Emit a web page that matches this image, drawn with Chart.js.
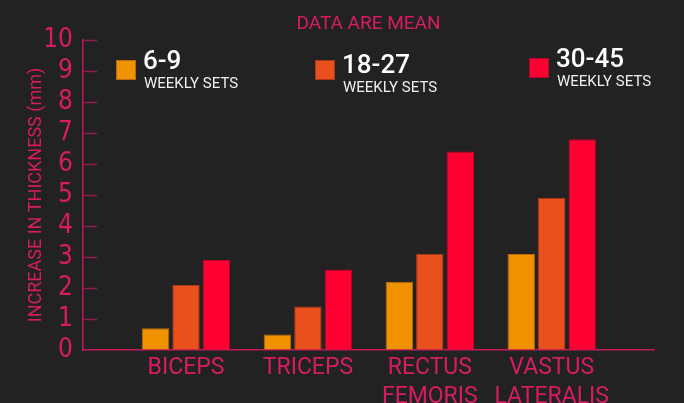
<!DOCTYPE html>
<html>
<head>
<meta charset="utf-8">
<script src="https://cdn.jsdelivr.net/npm/chart.js@4.4.1/dist/chart.umd.min.js"></script>
<style>
  html, body { margin: 0; padding: 0; background: #222222; }
  #chart { display: block; }
</style>
</head>
<body>
<canvas id="chart" width="684" height="403"></canvas>
<script>
// data
const muscles = [['BICEPS'], ['TRICEPS'], ['RECTUS', 'FEMORIS'], ['VASTUS', 'LATERALIS']];
const setGroups = ['6-9', '18-27', '30-45'];
const sets6to9 = [0.7, 0.5, 2.2, 3.1];
const sets18to27 = [2.1, 1.4, 3.1, 4.9];
const sets30to45 = [2.9, 2.6, 6.4, 6.8];
const yMin = 0, yMax = 10, yStep = 1;

const PINK = '#d81c62';
const AXIS = '#c2185b';
const NARROW = "'Liberation Sans Narrow', 'DejaVu Sans Condensed', Roboto, sans-serif";
const fills = ['#f09100', '#e8501e', '#ff0033'];
const edges = ['#b86c08', '#a8391a', '#b8002a'];

// small tick marks pointing into the plot, like the original
const innerTicks = {
    id: 'innerTicks',
    afterDatasetsDraw(chart) {
        const { ctx, scales: { y }, chartArea } = chart;
        ctx.save();
        ctx.strokeStyle = '#8e1d4a';
        ctx.lineWidth = 1.5;
        y.ticks.forEach(t => {
            if (t.value === 0) return;
            const py = Math.round(y.getPixelForValue(t.value)) + 0.5;
            ctx.beginPath();
            ctx.moveTo(chartArea.left, py);
            ctx.lineTo(chartArea.left + 14, py);
            ctx.stroke();
        });
        ctx.restore();
    }
};

// legend boxes placed where the original has them
const legendSpots = [
    { sx: 116, sy: 60, tx: 143, t1: 69, t2: 88 },
    { sx: 315, sy: 60, tx: 342, t1: 73, t2: 92 },
    { sx: 529, sy: 58, tx: 556, t1: 67, t2: 86 }
];
const setLegend = {
    id: 'setLegend',
    afterDraw(chart) {
        const ctx = chart.ctx;
        ctx.save();
        chart.data.datasets.forEach((ds, i) => {
            const p = legendSpots[i];
            ctx.fillStyle = ds.backgroundColor;
            ctx.fillRect(p.sx, p.sy, 20, 20);
            ctx.strokeStyle = ds.borderColor;
            ctx.lineWidth = 1;
            ctx.strokeRect(p.sx + 0.5, p.sy + 0.5, 19, 19);
            ctx.fillStyle = '#ffffff';
            ctx.textBaseline = 'alphabetic';
            ctx.textAlign = 'left';
            ctx.font = '500 26px Roboto';
            ctx.fillText(ds.label, p.tx, p.t1);
            ctx.fillStyle = '#eeeeee';
            ctx.font = '15px Roboto';
            ctx.fillText('WEEKLY SETS', p.tx + 1, p.t2);
        });
        ctx.restore();
    }
};

const series = [sets6to9, sets18to27, sets30to45];

new Chart(document.getElementById('chart').getContext('2d'), {
    type: 'bar',
    data: {
        datasets: setGroups.map((g, k) => ({
            label: g,
            data: series[k].map((v, i) => ({ x: i, y: v })),
            backgroundColor: fills[k],
            borderColor: edges[k],
            borderWidth: 1,
            categoryPercentage: 0.75,
            barPercentage: 0.9
        }))
    },
    options: {
        responsive: false,
        animation: false,
        layout: { padding: { top: 0, right: 30, bottom: 0, left: 0 } },
        plugins: {
            legend: { display: false },
            tooltip: { enabled: false },
            title: {
                display: true,
                text: 'DATA ARE MEAN',
                color: PINK,
                fullSize: false,
                font: { family: 'Roboto', size: 19, weight: 'normal', lineHeight: 1 },
                padding: { top: 15, bottom: 6 }
            }
        },
        scales: {
            x: {
                type: 'linear',
                min: -0.845,
                max: 3.839,
                offset: false,
                afterBuildTicks: (s) => { s.ticks = muscles.map((m, i) => ({ value: i })); },
                afterFit: (s) => { s.height = 53; },
                grid: { display: false, drawTicks: false },
                border: { display: true, color: AXIS, width: 1.5 },
                ticks: {
                    callback: (v) => muscles[v],
                    color: PINK,
                    autoSkip: false,
                    maxRotation: 0,
                    padding: 4,
                    font: { family: 'Roboto', size: 23, lineHeight: 1.25 }
                }
            },
            y: {
                min: yMin,
                max: yMax,
                afterFit: (s) => { s.width = 83; },
                grid: { drawOnChartArea: false, drawTicks: false },
                border: { display: true, color: AXIS, width: 1.5 },
                ticks: {
                    stepSize: yStep,
                    autoSkip: false,
                    color: PINK,
                    padding: 10,
                    font: { family: NARROW, size: 26 }
                },
                title: {
                    display: true,
                    text: 'INCREASE IN THICKNESS (mm)',
                    color: PINK,
                    font: { family: 'Roboto', size: 18, lineHeight: 1.2 },
                    padding: { top: 26, bottom: 0 }
                }
            }
        }
    },
    plugins: [innerTicks, setLegend]
});
</script>
</body>
</html>
